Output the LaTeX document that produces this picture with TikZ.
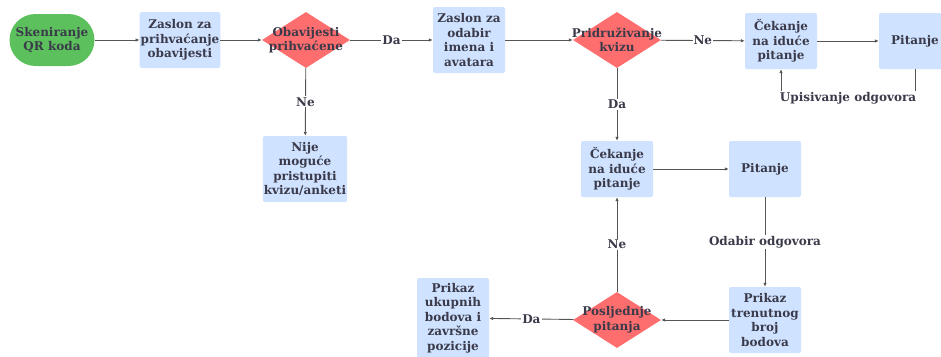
\documentclass[tikz,border=0pt]{standalone}
\usepackage{fontspec}
\setmainfont{DejaVu Serif}
\usetikzlibrary{shapes.geometric,arrows.meta}
\definecolor{boxblue}{HTML}{CFE2FF}
\definecolor{startgreen}{HTML}{5CC15C}
\definecolor{decred}{HTML}{FF6E6E}
\definecolor{txt}{HTML}{3A3A4A}
\definecolor{line}{HTML}{555555}
\begin{document}
\begin{tikzpicture}[x=1pt,y=-1pt,
    every node/.style={font=\bfseries\fontsize{12}{14.5}\selectfont,text=txt,align=center},
    box/.style={rectangle,rounded corners=2pt,fill=boxblue,minimum width=72pt,minimum height=56pt,inner sep=1pt},
    start/.style={rectangle,rounded corners=26pt,fill=startgreen,minimum width=85pt,minimum height=52pt,inner sep=1pt},
    decision/.style={diamond,fill=decred,minimum width=88pt,minimum height=56pt,inner sep=0pt},
    lbl/.style={fill=white,inner sep=1pt},
    arr/.style={draw=line,line width=0.9pt,-{Latex[length=4pt,width=3.5pt]}}]
        \useasboundingbox (0,0) rectangle (941,356);

        \node[start] (s) at (52,40) {Skeniranje\\QR koda};
        \node[box] (z1) at (180,40) {Zaslon za\\prihvaćanje\\obavijesti};
        \node[decision] (d1) at (306,40) {};
        \node at (d1) {Obavijesti\\prihvaćene};
        \node[box,minimum height=66pt] (z2) at (469,40) {Zaslon za\\odabir\\imena i\\avatara};
        \node[decision] (d2) at (617,40) {};
        \node at (d2) {Pridruživanje\\kvizu};
        \node[box] (c1) at (781,41) {Čekanje\\na iduće\\pitanje};
        \node[box] (p1) at (915,41) {Pitanje};

        \node[box,minimum height=66pt] (nm) at (305,169) {Nije\\moguće\\pristupiti\\kvizu/anketi};

        \node[box] (c2) at (617,169) {Čekanje\\na iduće\\pitanje};
        \node[box] (p2) at (765,169) {Pitanje};
        \node[box,minimum height=66pt] (pr) at (765,320) {Prikaz\\trenutnog\\broj\\bodova};
        \node[decision] (d3) at (617,320) {};
        \node at (d3) {Posljednje\\pitanja};
        \node[box,minimum height=80pt] (uk) at (453,318) {Prikaz\\ukupnih\\bodova i\\završne\\pozicije};

        \draw[arr] (s) -- (z1);
        \draw[arr] (z1) -- (d1);
        \draw[arr] (d1) -- node[lbl] {Da} (z2);
        \draw[arr] (z2) -- (d2);
        \draw[arr] (d2) -- node[lbl] {Ne} (c1);
        \draw[arr] (c1) -- (p1);
        \draw[arr] (p1.south) -- (p1.south |- 0,98) -- node[lbl] {Upisivanje odgovora} (c1.south |- 0,98) -- (c1.south);

        \draw[arr] (d1) -- node[lbl] {Ne} (nm);
        \draw[arr] (d2) -- node[lbl] {Da} (c2);
        \draw[arr] (c2) -- (p2);
        \draw[arr] (p2) -- node[lbl] {Odabir odgovora} (pr);
        \draw[arr] (pr) -- (d3);
        \draw[arr] (d3) -- node[lbl] {Da} (uk);
        \draw[arr] (d3) -- node[lbl] {Ne} (c2);
    \end{tikzpicture}
\end{document}
